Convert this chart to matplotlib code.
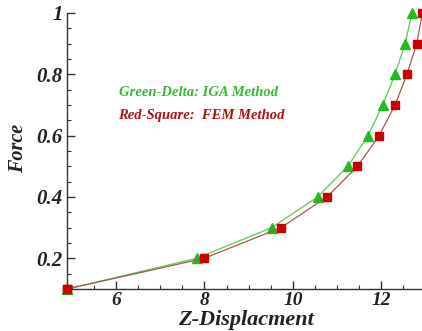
import matplotlib
matplotlib.use("Agg")
import matplotlib.pyplot as plt
from matplotlib.ticker import MultipleLocator

force = [0.1, 0.2, 0.3, 0.4, 0.5, 0.6, 0.7, 0.8, 0.9, 1.0]
iga_disp = [4.89, 7.82, 9.52, 10.56, 11.24, 11.70, 12.03, 12.31, 12.54, 12.69]
fem_disp = [4.89, 7.99, 9.73, 10.77, 11.46, 11.95, 12.31, 12.58, 12.80, 12.93]

fig = plt.figure(figsize=(4.22, 3.31), dpi=100)
ax = fig.add_axes([67/422, 1-289/331, 1-67/422, (289-13)/331])

ax.plot(fem_disp, force, color="#a05a50", lw=0.9, marker="s", ms=6,
        mfc="#cc0000", mec="#cc0000", zorder=3, clip_on=False)
ax.plot(iga_disp, force, color="#55cc55", lw=0.9, marker="^", ms=7,
        mfc="#22bb22", mec="#22bb22", zorder=2, clip_on=False)
ax.plot(fem_disp[:1], force[:1], ls="none", marker="s", ms=6,
        mfc="#cc0000", mec="#cc0000", zorder=4, clip_on=False)

ax.set_xlim(4.89, 12.92)
ax.set_ylim(0.1, 1.0)
ax.xaxis.set_major_locator(MultipleLocator(2))
ax.xaxis.set_minor_locator(MultipleLocator(0.5))
ax.yaxis.set_major_locator(MultipleLocator(0.2))
ax.yaxis.set_minor_locator(MultipleLocator(0.05))
ax.set_yticks([0.2, 0.4, 0.6, 0.8, 1.0])
ax.set_yticklabels(["0.2", "0.4", "0.6", "0.8", "1"])
ax.set_xticks([6, 8, 10, 12])
ax.set_xticklabels(["6", "8", "10", "12"])

for s in ["top", "right"]:
    ax.spines[s].set_visible(False)
for s in ["left", "bottom"]:
    ax.spines[s].set_color("#333333")
    ax.spines[s].set_linewidth(1.0)

ax.tick_params(which="major", direction="in", length=6, width=1.0, color="#333333", pad=3)
ax.tick_params(axis="x", which="major", pad=2)
ax.tick_params(which="minor", direction="in", length=3, width=0.8, color="#333333")

for lab in ax.get_yticklabels():
    lab.set_fontfamily("Liberation Serif")
    lab.set_fontweight("bold")
    lab.set_fontstyle("italic")
    lab.set_fontsize(15)
    lab.set_color("#222222")
for lab in ax.get_xticklabels():
    lab.set_fontfamily("Liberation Serif")
    lab.set_fontweight("bold")
    lab.set_fontstyle("italic")
    lab.set_fontsize(14)
    lab.set_color("#222222")

fig.text(246/422, 1-320/331, "Z-Displacment", ha="center", va="center",
         family="Liberation Serif", weight="bold", style="italic", size=16, color="#222222")
fig.text(18/422, 1-148/331, "Force", ha="center", va="center", rotation=90,
         family="Liberation Serif", weight="bold", style="italic", size=14.5, color="#222222")

fig.text(119/422, 1-93/331, "Green-Delta: IGA Method", ha="left", va="center",
         family="Liberation Serif", weight="bold", style="italic", size=10.5, color="#33bb33")
fig.text(118/422, 1-115/331, "Red-Square:  FEM Method", ha="left", va="center",
         family="Liberation Serif", weight="bold", style="italic", size=10.5, color="#b01010")

fig.savefig("out.png", dpi=100)
